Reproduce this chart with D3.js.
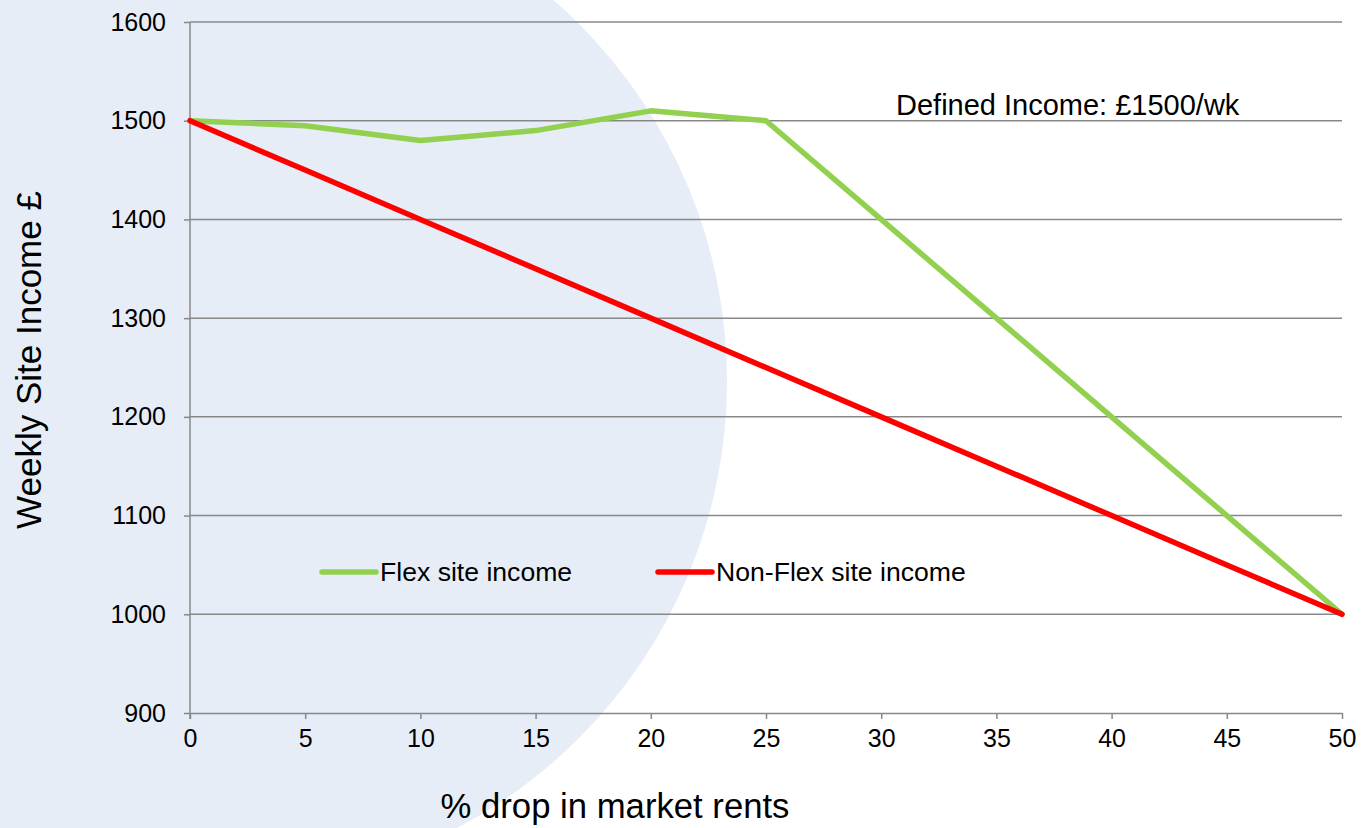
<!DOCTYPE html>
<html>
<head>
<meta charset="utf-8">
<script src="https://cdn.jsdelivr.net/npm/d3@7"></script>
<style>
  body { margin: 0; background: #fff; }
  svg { display: block; font-family: "Liberation Sans", Arial, sans-serif; }
  .grid line { stroke: #888; stroke-width: 1.5; }
  .axis path, .axis line { stroke: #888; stroke-width: 1.5; }
  .axis text { font-size: 25px; fill: #000; }
</style>
</head>
<body>
<svg width="1361" height="828"></svg>
<script>
// data
const drops = [0, 5, 10, 15, 20, 25, 30, 35, 40, 45, 50];
const flexIncome = [1500, 1495, 1480, 1490, 1510, 1500, 1400, 1300, 1200, 1100, 1000];
const nonFlexIncome = [1500, 1450, 1400, 1350, 1300, 1250, 1200, 1150, 1100, 1050, 1000];
const yTicks = [900, 1000, 1100, 1200, 1300, 1400, 1500, 1600];
const seriesNames = ["Flex site income", "Non-Flex site income"];
const seriesColors = ["#92D050", "#FF0000"];

const svg = d3.select("svg");
const x = d3.scaleLinear().domain([0, 50]).range([190, 1342]);
const y = d3.scaleLinear().domain([900, 1600]).range([713, 22]);

// background disc
svg.append("circle")
  .attr("cx", 222).attr("cy", 381).attr("r", 505)
  .attr("fill", "#E6EDF6");

// gridlines
svg.append("g").attr("class", "grid")
  .selectAll("line")
  .data(yTicks.slice(1))
  .enter().append("line")
  .attr("x1", 190).attr("x2", 1342)
  .attr("y1", (d) => y(d)).attr("y2", (d) => y(d));

// axes
svg.append("g").attr("class", "axis")
  .attr("transform", "translate(190,0)")
  .call(d3.axisLeft(y).tickValues(yTicks).tickFormat(d3.format("d"))
    .tickSizeInner(6).tickSizeOuter(0).tickPadding(18))
  .call((g) => g.select(".domain").attr("d", `M0,${y(1600)}V719`));

svg.append("g").attr("class", "axis")
  .attr("transform", "translate(0,713)")
  .call(d3.axisBottom(x).tickValues(drops).tickFormat(d3.format("d"))
    .tickSizeInner(6).tickSizeOuter(0).tickPadding(10));

svg.selectAll(".axis").attr("font-family", null).attr("font-size", null);

// lines
const line = d3.line().x((d, i) => x(drops[i])).y((d) => y(d));
[flexIncome, nonFlexIncome].forEach((vals, i) => {
  svg.append("path")
    .datum(vals)
    .attr("d", line)
    .attr("fill", "none")
    .attr("stroke", seriesColors[i])
    .attr("stroke-width", 5.5)
    .attr("stroke-linejoin", "round")
    .attr("stroke-linecap", "round");
});

// annotation
svg.append("text")
  .attr("x", 896).attr("y", 115)
  .attr("font-size", 29)
  .text("Defined Income: £1500/wk");

// legend
const legendX = [322, 658];
seriesNames.forEach((name, i) => {
  svg.append("line")
    .attr("x1", legendX[i]).attr("x2", legendX[i] + 54)
    .attr("y1", 572).attr("y2", 572)
    .attr("stroke", seriesColors[i])
    .attr("stroke-width", 5.5)
    .attr("stroke-linecap", "round");
  svg.append("text")
    .attr("x", legendX[i] + 58).attr("y", 581)
    .attr("font-size", 26.6)
    .text(name);
});

// axis titles
svg.append("text")
  .attr("x", 615).attr("y", 818)
  .attr("text-anchor", "middle")
  .attr("font-size", 34.7)
  .text("% drop in market rents");

svg.append("text")
  .attr("transform", "translate(41,360) rotate(-90)")
  .attr("text-anchor", "middle")
  .attr("font-size", 35)
  .text("Weekly Site Income £");
</script>
</body>
</html>
